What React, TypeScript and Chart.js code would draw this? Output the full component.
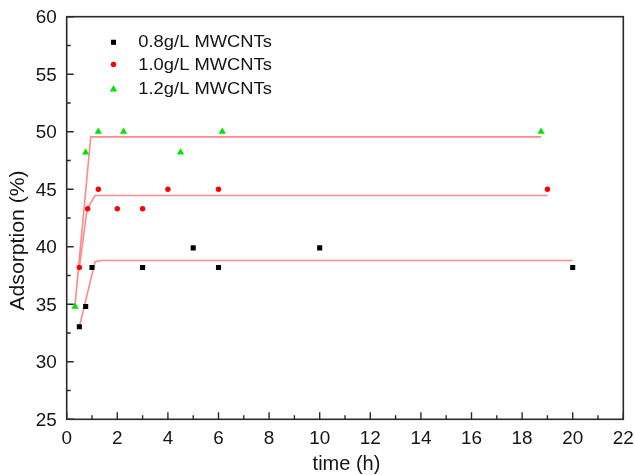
import React, { useEffect, useRef } from 'react';
import { Chart, registerables } from 'chart.js';

Chart.register(...registerables);

// ---- data ----
const seriesLabels = ['0.8g/L MWCNTs', '1.0g/L MWCNTs', '1.2g/L MWCNTs'];

const time08 = [0.5, 0.75, 1, 3, 5, 6, 10, 20];
const ads08 = [33.05, 34.8, 38.2, 38.2, 39.9, 38.2, 39.9, 38.2];

const time10 = [0.5, 0.83, 1.25, 2, 3, 4, 6, 19];
const ads10 = [38.2, 43.3, 45.0, 43.3, 43.3, 45.0, 45.0, 45.0];

const time12 = [0.33, 0.75, 1.25, 2.25, 4.5, 6.15, 18.75];
const ads12 = [34.8, 48.2, 50.0, 50.0, 48.2, 50.0, 50.0];

const fitTime08 = [0.5, 1.12, 1.38, 20];
const fitAds08 = [33.05, 38.7, 38.8, 38.8];
const fitTime10 = [0.5, 0.81, 1.12, 19];
const fitAds10 = [38.2, 43.3, 44.45, 44.45];
const fitTime12 = [0.33, 0.95, 18.75];
const fitAds12 = [34.95, 49.55, 49.55];

const xTicksMajor = [0, 2, 4, 6, 8, 10, 12, 14, 16, 18, 20, 22];
const yTicksMajor = [25, 30, 35, 40, 45, 50, 55, 60];
const xTitle = 'time (h)';
const yTitle = 'Adsorption (%)';

const FONT = '"Liberation Sans", Arial, sans-serif';
const FIT_COLOR = '#ff8a8a';
const AXIS_COLOR = '#2a2a2a';
const TEXT_COLOR = '#151515';

const pts = (xs: number[], ys: number[]) => xs.map((x, i) => ({ x, y: ys[i] }));

const markerStyles = [
  { style: 'rect', color: '#000000', radius: 3.6 },
  { style: 'circle', color: '#ff0000', radius: 2.7 },
  { style: 'triangle', color: '#00e600', radius: 4.2 },
];

function drawMarker(ctx: CanvasRenderingContext2D, style: string, x: number, y: number, r: number, color: string) {
  ctx.save();
  ctx.fillStyle = color;
  ctx.beginPath();
  if (style === 'rect') {
    const s = Math.SQRT1_2 * r;
    ctx.rect(x - s, y - s, 2 * s, 2 * s);
  } else if (style === 'circle') {
    ctx.arc(x, y, r, 0, Math.PI * 2);
  } else {
    ctx.moveTo(x, y - r);
    ctx.lineTo(x + r * 0.866, y + r / 2);
    ctx.lineTo(x - r * 0.866, y + r / 2);
    ctx.closePath();
  }
  ctx.fill();
  ctx.restore();
}

function stretchedText(
  ctx: CanvasRenderingContext2D,
  text: string,
  x: number,
  y: number,
  align: 'left' | 'center' | 'right',
  sx: number,
) {
  ctx.save();
  ctx.translate(x, y);
  ctx.scale(sx, 1);
  ctx.textAlign = align;
  ctx.fillText(text, 0, 0);
  ctx.restore();
}

const framePlugin = {
  id: 'framePlugin',
  afterDraw(chart: any) {
    const ctx: CanvasRenderingContext2D = chart.ctx;
    const { left, right, top, bottom } = chart.chartArea;
    const xs = chart.scales.x;
    const ys = chart.scales.y;
    ctx.save();
    ctx.strokeStyle = AXIS_COLOR;
    ctx.lineWidth = 1.6;
    ctx.strokeRect(left, top, right - left, bottom - top);
    ctx.lineWidth = 1.4;
    ctx.beginPath();
    xTicksMajor.forEach((v, i) => {
      const px = xs.getPixelForValue(v);
      ctx.moveTo(px, bottom);
      ctx.lineTo(px, bottom - 7);
      if (i < xTicksMajor.length - 1) {
        const pm = xs.getPixelForValue(v + 1);
        ctx.moveTo(pm, bottom);
        ctx.lineTo(pm, bottom - 4);
      }
    });
    yTicksMajor.forEach((v, i) => {
      const py = ys.getPixelForValue(v);
      ctx.moveTo(left, py);
      ctx.lineTo(left + 7, py);
      if (i < yTicksMajor.length - 1) {
        const pm = ys.getPixelForValue(v + 2.5);
        ctx.moveTo(left, pm);
        ctx.lineTo(left + 4, pm);
      }
    });
    ctx.stroke();

    // tick labels
    ctx.fillStyle = TEXT_COLOR;
    ctx.textBaseline = 'alphabetic';
    ctx.font = `18px ${FONT}`;
    xTicksMajor.forEach((v) => {
      stretchedText(ctx, String(v), xs.getPixelForValue(v), bottom + 25, 'center', 1.05);
    });
    yTicksMajor.forEach((v) => {
      stretchedText(ctx, String(v), left - 10, ys.getPixelForValue(v) + 6.4, 'right', 1.05);
    });

    // axis titles
    ctx.font = `20px ${FONT}`;
    stretchedText(ctx, xTitle, (left + right) / 2 + 1.5, 469.5, 'center', 1.0);
    ctx.save();
    ctx.translate(24.3, 240.5);
    ctx.rotate(-Math.PI / 2);
    ctx.scale(1.06, 1);
    ctx.textAlign = 'center';
    ctx.fillText(yTitle, 0, 0);
    ctx.restore();

    // legend
    const lx = 113.5;
    const tx = 138.3;
    const markerY = [42.3, 64.4, 89.3];
    const baseY = [47.4, 70.2, 94.1];
    ctx.font = `17px ${FONT}`;
    seriesLabels.forEach((label, i) => {
      const m = markerStyles[i];
      drawMarker(ctx, m.style, lx, markerY[i], m.radius, m.color);
      ctx.fillStyle = TEXT_COLOR;
      stretchedText(ctx, label, tx, baseY[i], 'left', 1.08);
    });
    ctx.restore();
  },
};

export default function App() {
  const canvasRef = useRef<HTMLCanvasElement | null>(null);

  useEffect(() => {
    if (!canvasRef.current) return;
    const markerSets = [pts(time08, ads08), pts(time10, ads10), pts(time12, ads12)];
    const fitSets = [pts(fitTime08, fitAds08), pts(fitTime10, fitAds10), pts(fitTime12, fitAds12)];
    const datasets: any[] = [];
    fitSets.forEach((d, i) => {
      datasets.push({
        label: 'fit ' + seriesLabels[i],
        data: d,
        showLine: true,
        borderColor: FIT_COLOR,
        borderWidth: 1.6,
        pointRadius: 0,
        tension: 0,
        fill: false,
        order: 2,
      });
    });
    markerSets.forEach((d, i) => {
      const m = markerStyles[i];
      datasets.push({
        label: seriesLabels[i],
        data: d,
        showLine: false,
        pointStyle: m.style,
        pointRadius: m.radius,
        backgroundColor: m.color,
        borderColor: m.color,
        borderWidth: 0,
        order: 1,
      });
    });

    const chart = new Chart(canvasRef.current, {
      type: 'scatter',
      data: { datasets },
      options: {
        responsive: false,
        animation: false,
        layout: { padding: { top: 16.7, right: 11.7, left: 0, bottom: 0 } },
        plugins: {
          legend: { display: false },
          tooltip: { enabled: false },
        },
        scales: {
          x: {
            type: 'linear',
            min: 0,
            max: 22,
            grid: { display: false, drawTicks: false },
            border: { display: false },
            ticks: { display: false, stepSize: 2 },
            title: { display: false },
            afterFit(scale: any) {
              scale.height = 55.7;
            },
          },
          y: {
            type: 'linear',
            min: 25,
            max: 60,
            grid: { display: false, drawTicks: false },
            border: { display: false },
            ticks: { display: false, stepSize: 5 },
            title: { display: false },
            afterFit(scale: any) {
              scale.width = 66.7;
            },
          },
        },
      },
      plugins: [framePlugin],
    });
    return () => chart.destroy();
  }, []);

  return (
    <div style={{ position: 'absolute', left: 0, top: 0, width: 635, height: 475, background: '#fff' }}>
      <canvas ref={canvasRef} width={635} height={475} style={{ display: 'block' }} />
    </div>
  );
}
